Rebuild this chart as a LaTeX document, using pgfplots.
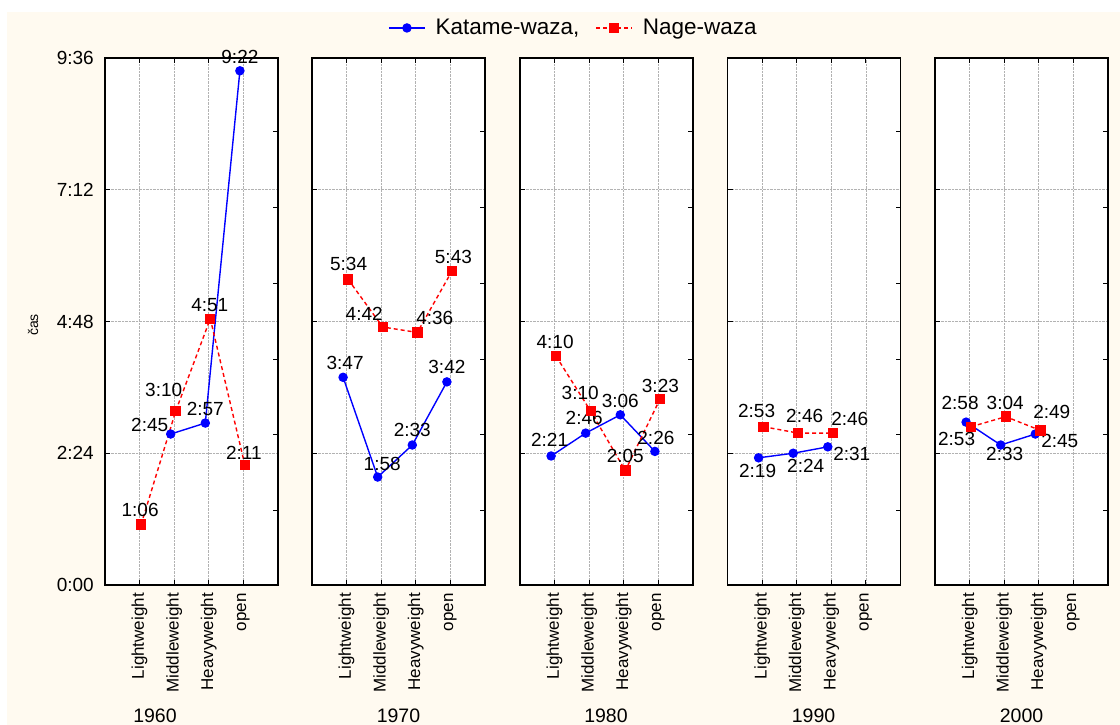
\documentclass[border=0pt]{standalone}
\usepackage{pgfplots}
\pgfplotsset{compat=1.18}
\usepackage{fontspec}
\setmainfont{Liberation Sans}
\definecolor{cream}{RGB}{255,250,240}
\definecolor{kblue}{RGB}{0,0,255}
\definecolor{nred}{RGB}{255,0,0}

\pgfplotsset{
 panel/.style={
  scale only axis, width=173pt, height=527pt, anchor=south west,
  xmin=-1, xmax=4, ymin=0, ymax=576,
  xtick={0,1,2,3}, xticklabels={Lightweight,Middleweight,Heavyweight,open},
  ytick={0,144,288,432,576}, yticklabels={},
  ytick pos=left, xtick pos=both,
  tick align=inside, major tick length=5pt,
  tick style={black, line width=1pt},
  xmajorgrids, ymajorgrids,
  major grid style={densely dotted, black!30, line width=0.7pt},
  axis line style={black, line width=1.3pt},
  axis background/.style={fill=white},
  x tick label style={yshift=-8pt, rotate=90, anchor=east, inner sep=0pt, font=\fontsize{17}{17}\selectfont},
  clip=false,
 },
 kat/.style={kblue, line width=1.4pt, mark=*, mark size=4pt, mark options={solid, fill=kblue, draw=kblue}},
 nag/.style={nred, line width=1.4pt, dash pattern=on 4pt off 3pt, mark=square*, mark size=4.5pt, mark options={solid, fill=nred, draw=nred}},
}
\newcommand{\lab}[5]{\node[font=\fontsize{19}{19}\selectfont, inner sep=0pt, xshift=#3pt, yshift=#4pt] at (axis cs:#1,#2) {#5};}
\newcommand{\rticks}{\pgfplotsinvokeforeach{81,164,247,330,413,496}{\draw[black, line width=1pt] (axis cs:4,##1) -- ++(-5pt,0pt);}}

\begin{document}
\begin{tikzpicture}
\useasboundingbox (0,0) rectangle (1120pt,725pt);
\fill[white] (0,0) rectangle (1120pt,725pt);
\fill[cream] (7pt,0) rectangle (1120pt,713pt);

% 1960
\begin{axis}[panel, at={(105pt,140pt)},
  yticklabels={0:00,2:24,4:48,7:12,9:36},
  y tick label style={font=\fontsize{19}{19}\selectfont, inner sep=0pt, xshift=-11pt}]
\addplot[kat, xshift=-3.5pt] coordinates {(1,165) (2,177) (3,562)};
\addplot[nag, xshift=1.5pt] coordinates {(0,66) (1,190) (2,291) (3,131)};
\lab{1}{165}{-24.5}{9}{2:45}
\lab{2}{177}{-3.5}{14}{2:57}
\lab{3}{562}{-3.5}{14}{9:22}
\lab{0}{66}{0.5}{14.5}{1:06}
\lab{1}{190}{-10.5}{21}{3:10}
\lab{2}{291}{1}{13.5}{4:51}
\lab{3}{131}{0.5}{12.5}{2:11}
\rticks
\end{axis}

% 1970
\begin{axis}[panel, at={(312pt,140pt)}]
\addplot[kat, xshift=-3.5pt] coordinates {(0,227) (1,118) (2,153) (3,222)};
\addplot[nag, xshift=1.5pt] coordinates {(0,334) (1,282) (2,276) (3,343)};
\lab{0}{334}{2}{15}{5:34}
\lab{1}{282}{-17}{13}{4:42}
\lab{2}{276}{19}{14.5}{4:36}
\lab{3}{343}{3}{14}{5:43}
\lab{0}{227}{-1.5}{14}{3:47}
\lab{1}{118}{1}{13}{1:58}
\lab{2}{153}{-3.5}{15}{2:33}
\lab{3}{222}{-3.5}{15}{3:42}
\rticks
\end{axis}

% 1980
\begin{axis}[panel, at={(520pt,140pt)},
  legend columns=2,
  legend image code/.code={\draw[mark repeat=2,mark phase=2] plot coordinates {(0pt,0pt) (18pt,0pt) (36pt,0pt)};},
  legend style={at={(0.309,1.057)}, anchor=center, draw=none, fill=none,
    font=\fontsize{22.5}{22.5}\selectfont,
    /tikz/every odd column/.append style={column sep=8pt},
    /tikz/every even column/.append style={column sep=14pt}}]
\addlegendimage{kat}
\addlegendentry{Katame-waza,}
\addlegendimage{nag}
\addlegendentry{Nage-waza}
\addplot[kat, xshift=-3.5pt, forget plot] coordinates {(0,141) (1,166) (2,186) (3,146)};
\addplot[nag, xshift=1.5pt, forget plot] coordinates {(0,250) (1,190) (2,125) (3,203)};
\lab{0}{250}{0.5}{14}{4:10}
\lab{1}{190}{-9}{18.5}{3:10}
\lab{1}{166}{-5}{15.5}{2:46}
\lab{2}{186}{-3.5}{14}{3:06}
\lab{0}{141}{-5}{16}{2:21}
\lab{3}{146}{-2.5}{13.5}{2:26}
\lab{2}{125}{1.5}{14.5}{2:05}
\lab{3}{203}{2}{13}{3:23}
\rticks
\end{axis}

% 1990
\begin{axis}[panel, at={(727.5pt,140pt)}]
\addplot[kat, xshift=-3.5pt] coordinates {(0,139) (1,144) (2,151)};
\addplot[nag, xshift=1.5pt] coordinates {(0,173) (1,166) (2,166)};
\lab{0}{173}{-5.5}{15.5}{2:53}
\lab{1}{166}{8}{17}{2:46}
\lab{2}{166}{18.5}{14}{2:46}
\lab{0}{139}{-4.5}{-13}{2:19}
\lab{1}{144}{9}{-13}{2:24}
\lab{2}{151}{20.5}{-7}{2:31}
\rticks
\end{axis}

% 2000
\begin{axis}[panel, at={(935pt,140pt)}]
\addplot[kat, xshift=-3.5pt] coordinates {(0,178) (1,153) (2,165)};
\addplot[nag, xshift=1.5pt] coordinates {(0,173) (1,184) (2,169)};
\lab{0}{178}{-9.5}{19.5}{2:58}
\lab{1}{184}{1}{14}{3:04}
\lab{2}{169}{13}{18}{2:49}
\lab{0}{173}{-13}{-12}{2:53}
\lab{1}{153}{0.5}{-9}{2:33}
\lab{2}{165}{21}{-7}{2:45}
\rticks
\end{axis}

\node[rotate=90, font=\fontsize{14}{14}\selectfont] at (33pt,400pt) {čas};
\foreach \xx/\yy in {155/1960, 398.5/1970, 606/1980, 813.5/1990, 1021.5/2000}
  \node[anchor=base, inner sep=0pt, font=\fontsize{19.5}{19.5}\selectfont] at (\xx pt,2.5pt) {\yy};
\end{tikzpicture}
\end{document}
